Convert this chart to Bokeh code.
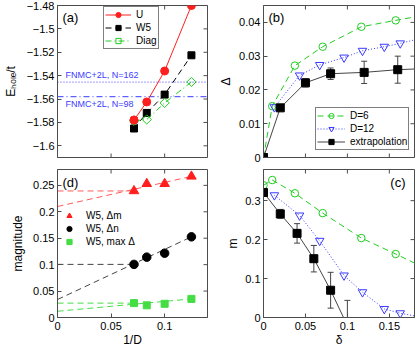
import math
from bokeh.plotting import figure
from bokeh.layouts import gridplot
from bokeh.models import (Range1d, FixedTicker, Label, Legend,
                          LegendItem, CustomJSTickFormatter)
from bokeh.embed import file_html
from bokeh.resources import INLINE

FONT = "Liberation Sans"
FRAME = "#4d4d4d"
RED = "#ff1f1f"
GREEN = "#22cc22"
BLUE = "#3b3bff"
LRED = "#ff5a5a"
LGREEN = "#44dd44"
GRAYK = "#444444"

# ---------------- data ----------------
# panel (a): hole energy vs 1/D
inv_D = [0.0714, 0.0833, 0.1, 0.125]
a_U = [-1.578, -1.5625, -1.536, -1.480]
a_W5 = [-1.5852, -1.5719, -1.5562, -1.5226]
a_Diag = [-1.5787, -1.5775, -1.5633, -1.5454]
fnmc_162 = -1.5455
fnmc_98 = -1.558

# panel (b)/(c): doping dependence
x_D6 = [0.0, 0.0104, 0.0374, 0.0706, 0.1166, 0.1576, 0.2]
b_D6 = [0.0, 0.0152, 0.0272, 0.0328, 0.0387, 0.0406, 0.0425]
c_D6 = [0.3396, 0.353, 0.319, 0.268, 0.204, 0.163, 0.119]

x_D12 = [0.013, 0.043, 0.067, 0.096, 0.118, 0.144, 0.163, 0.19]
b_D12 = [0.0149, 0.0243, 0.0274, 0.0296, 0.0316, 0.0328, 0.0338, 0.0354]
c_D12 = [0.314, 0.262, 0.197, 0.108, 0.065, 0.022, 0.011, 0.0]

b_x_ex = [0.0, 0.02, 0.05, 0.08, 0.12, 0.16, 0.2]
b_y_ex = [0.0, 0.0147, 0.0221, 0.0248, 0.0252, 0.0260, 0.0264]
b_e_ex = [0.0, 0.0006, 0.0012, 0.0017, 0.0033, 0.0040, 0.0040]

c_x_ex = [0.0, 0.02, 0.04, 0.06, 0.08, 0.1]
c_y_ex = [0.321, 0.266, 0.216, 0.151, 0.070, -0.021]
c_e_ex = [0.0, 0.0115, 0.025, 0.034, 0.046, 0.065]

# panel (d): magnitudes vs 1/D
d_dm = [0.2394, 0.253, 0.253, 0.267]
d_dn = [0.1005, 0.1142, 0.1217, 0.1526]
d_dmax = [0.0272, 0.0230, 0.0259, 0.0352]
fit_x = [0.0, 0.125]
fit_dm = [0.210, 0.267]
fit_dn = [0.034, 0.1526]
fit_dmax = [0.0118, 0.0352]

# ticks
a_xticks = [0, 0.05, 0.1]
a_yticks = [-1.6, -1.58, -1.56, -1.54, -1.52, -1.5, -1.48]
a_ylabels = ["\u22121.6", "\u22121.58", "\u22121.56", "\u22121.54", "\u22121.52", "\u22121.5", "\u22121.48"]
d_xlabels = ["0", "0.05", "0.1"]
d_yticks = [0, 0.05, 0.1, 0.15, 0.2, 0.25]
d_ylabels = ["0", "0.05", "0.1", "0.15", "0.2", "0.25"]
bc_xticks = [0, 0.05, 0.1, 0.15]
bc_xlabels = ["0", "0.05", "0.1", "0.15"]
b_yticks = [0, 0.01, 0.02, 0.03, 0.04]
b_ylabels = ["0", "0.01", "0.02", "0.03", "0.04"]
c_yticks = [0, 0.1, 0.2, 0.3]
c_ylabels = ["0", "0.1", "0.2", "0.3"]


def fmt(ticks, labels):
    return CustomJSTickFormatter(args=dict(tv=list(ticks), tl=list(labels)), code="""
        for (let i = 0; i < tv.length; i++) {
            if (Math.abs(tv[i] - tick) < 1e-9) { return tl[i]; }
        }
        return "";
    """)


def style_axis(ax, ticks, labels, standoff):
    ax.ticker = FixedTicker(ticks=ticks)
    ax.formatter = fmt(ticks, labels)
    ax.major_tick_in = 4
    ax.major_tick_out = 0
    ax.minor_tick_line_color = None
    ax.axis_line_color = FRAME
    ax.major_tick_line_color = FRAME
    ax.major_label_text_font = FONT
    ax.major_label_text_color = "black"
    ax.major_label_text_font_size = "11px"
    ax.major_label_standoff = standoff
    ax.axis_label_text_font = FONT
    ax.axis_label_text_font_size = "12px"
    ax.axis_label_text_font_style = "normal"
    ax.axis_label_text_color = "black"


def make_fig(w, h, left, right, top, bottom, xr, yr, xt, xl, yt, yl,
             ylabel, ylabel_standoff, xlabel=None):
    p = figure(width=w, height=h, min_border_left=left, min_border_right=right,
               min_border_top=top, min_border_bottom=bottom,
               x_range=Range1d(*xr), y_range=Range1d(*yr),
               output_backend="svg", toolbar_location=None, tools="")
    p.grid.visible = False
    p.outline_line_color = FRAME
    p.background_fill_color = "white"
    p.border_fill_color = "white"
    style_axis(p.yaxis[0], yt, yl, 3)
    p.yaxis[0].axis_label = ylabel
    p.yaxis[0].axis_label_standoff = ylabel_standoff
    if xl is None:
        p.xaxis.visible = False
        # inward tick marks on the bottom edge (outer half is clipped)
        p.scatter(xt, [yr[0]] * len(xt), marker="dash", angle=math.pi / 2, size=8,
                  line_color=FRAME, line_width=1)
    else:
        xa = p.xaxis[0]
        style_axis(xa, xt, xl, 4)
        xa.major_label_text_line_height = 0.8
        xa.axis_label = xlabel
        xa.axis_label_text_line_height = 0.8
        xa.axis_label_standoff = 0
    # mirrored inward ticks on the top and right edges
    p.scatter(xt, [yr[1]] * len(xt), marker="dash", angle=math.pi / 2, size=8,
              line_color=FRAME, line_width=1)
    p.scatter([xr[1]] * len(yt), yt, marker="dash", size=8,
              line_color=FRAME, line_width=1)
    return p


def panel_label(p, x, y, xo, yo, text, align="left"):
    p.add_layout(Label(x=x, y=y, x_offset=xo, y_offset=yo, text=text, text_font=FONT,
                       text_font_size="13px", text_baseline="top", text_align=align,
                       text_color="black"))


def legend(p, items, loc, glyph_w, standoff, boxed=True):
    lg = Legend(items=items, location=loc, glyph_width=glyph_w, glyph_height=13,
                label_height=13, spacing=0, padding=1, margin=0,
                label_standoff=standoff, label_text_font=FONT,
                label_text_font_size="10px", label_text_color="black",
                label_text_line_height=1.0)
    if boxed:
        lg.border_line_color = "black"
        lg.border_line_width = 1
        lg.background_fill_color = "white"
        lg.background_fill_alpha = 1
    else:
        lg.border_line_alpha = 0
        lg.background_fill_alpha = 0
    p.add_layout(lg)
    return lg


# ---------------- panel (a) ----------------
fa = make_fig(215, 164, 55, 8, 5, 7, (0, 0.14), (-1.61, -1.48),
              a_xticks, None, a_yticks, a_ylabels,
              "E\u2095\u2092\u2097\u2091/t", 6)
fa.line([0, 0.14], [fnmc_162, fnmc_162], line_color=BLUE, line_width=1, line_dash="1 2")
fa.line([0, 0.14], [fnmc_98, fnmc_98], line_color=BLUE, line_width=1, line_dash="6 3 1 3")
fa.add_layout(Label(x=0.0074, y=fnmc_162, y_offset=2, text="FNMC+2L, N=162", text_font=FONT,
                    text_font_size="9px", text_color=BLUE, text_baseline="bottom"))
fa.add_layout(Label(x=0.0074, y=fnmc_98, y_offset=-2, text="FNMC+2L, N=98", text_font=FONT,
                    text_font_size="9px", text_color=BLUE, text_baseline="top"))
lu = fa.line(inv_D, a_U, line_color=RED, line_width=1)
su = fa.scatter(inv_D, a_U, marker="circle", size=8, fill_color=RED, line_color=RED)
lw = fa.line(inv_D, a_W5, line_color="black", line_width=1, line_dash="6 4")
sw = fa.scatter(inv_D, a_W5, marker="square", size=7, fill_color="black", line_color="black")
ld = fa.line(inv_D, a_Diag, line_color=GREEN, line_width=1, line_dash="6 3 1 3")
sd = fa.scatter(inv_D, a_Diag, marker="square", angle=math.pi / 4, size=6.5,
                fill_color=None, line_color=GREEN, line_width=1)
fa.scatter(inv_D[:1], a_U[:1], marker="circle", size=8, fill_color=RED, line_color=RED)
legend(fa, [LegendItem(label="U", renderers=[lu, su]),
            LegendItem(label="W5", renderers=[lw, sw]),
            LegendItem(label="Diag", renderers=[ld, sd])], (46, 108), 26, 5)
panel_label(fa, 0, -1.48, 5, -4, "(a)")

# ---------------- panel (b) ----------------
fb = make_fig(200, 164, 48, 1, 5, 7, (0, 0.18), (0, 0.045),
              bc_xticks, None, b_yticks, b_ylabels, "\u0394", 3)
l6 = fb.line(x_D6, b_D6, line_color=GREEN, line_width=1, line_dash="6 4")
s6 = fb.scatter(x_D6, b_D6, marker="circle", size=7.5, fill_color=None, line_color=GREEN)
l12 = fb.line(x_D12, b_D12, line_color=BLUE, line_width=1, line_dash="1 2")
s12 = fb.scatter(x_D12, b_D12, marker="inverted_triangle", size=8.5, fill_color=None, line_color=BLUE)
b_lo = [y - e for y, e in zip(b_y_ex, b_e_ex)]
b_hi = [y + e for y, e in zip(b_y_ex, b_e_ex)]
fb.segment(b_x_ex, b_lo, b_x_ex, b_hi, line_color=GRAYK, line_width=1)
fb.scatter(b_x_ex, b_lo, marker="dash", size=6, line_color=GRAYK)
fb.scatter(b_x_ex, b_hi, marker="dash", size=6, line_color=GRAYK)
lex = fb.line(b_x_ex, b_y_ex, line_color=GRAYK, line_width=1)
sex = fb.scatter(b_x_ex, b_y_ex, marker="square", size=8, fill_color="black", line_color="black")
legend(fb, [LegendItem(label="D=6", renderers=[l6, s6]),
            LegendItem(label="D=12", renderers=[l12, s12]),
            LegendItem(label="extrapolation", renderers=[lex, sex])], (52, 7), 28, 5)
panel_label(fb, 0, 0.045, 5, -4, "(b)")

# ---------------- panel (d) ----------------
fd = make_fig(215, 185, 55, 8, 5, 28, (0, 0.14), (0, 0.28),
              a_xticks, d_xlabels, d_yticks, d_ylabels, "magnitude", 5, xlabel="1/D")
fd.line([0, inv_D[0]], [d_dm[0], d_dm[0]], line_color=LRED, line_width=1, line_dash="6 4")
fd.line(fit_x, fit_dm, line_color=LRED, line_width=1, line_dash="6 4")
fd.line([0, inv_D[0]], [d_dn[0], d_dn[0]], line_color=GRAYK, line_width=1, line_dash="6 4")
fd.line(fit_x, fit_dn, line_color=GRAYK, line_width=1, line_dash="6 4")
fd.line([0, inv_D[0]], [d_dmax[0], d_dmax[0]], line_color=LGREEN, line_width=1, line_dash="6 4")
fd.line(fit_x, fit_dmax, line_color=LGREEN, line_width=1, line_dash="6 4")
tm = fd.scatter(inv_D, d_dm, marker="triangle", size=9.5, fill_color=RED, line_color=RED)
cn = fd.scatter(inv_D, d_dn, marker="circle", size=8.5, fill_color="black", line_color="black")
qm = fd.scatter(inv_D, d_dmax, marker="square", size=7, fill_color=LGREEN, line_color=LGREEN)
legend(fd, [LegendItem(label="W5, \u0394m", renderers=[tm]),
            LegendItem(label="W5, \u0394n", renderers=[cn]),
            LegendItem(label="W5, max \u0394", renderers=[qm])], (1, 68), 20, 7, boxed=False)
panel_label(fd, 0, 0.28, 5, -5, "(d)")

# ---------------- panel (c) ----------------
fc = make_fig(200, 185, 48, 1, 5, 28, (0, 0.18), (0, 0.38),
              bc_xticks, bc_xlabels, c_yticks, c_ylabels, "m", 2, xlabel="\u03b4")
fc.line(x_D6, c_D6, line_color=GREEN, line_width=1, line_dash="6 4")
fc.scatter(x_D6, c_D6, marker="circle", size=7.5, fill_color=None, line_color=GREEN)
fc.line(x_D12, c_D12, line_color=BLUE, line_width=1, line_dash="1 2")
fc.scatter(x_D12, c_D12, marker="inverted_triangle", size=8.5, fill_color=None, line_color=BLUE)
c_lo = [y - e for y, e in zip(c_y_ex, c_e_ex)]
c_hi = [y + e for y, e in zip(c_y_ex, c_e_ex)]
fc.segment(c_x_ex, c_lo, c_x_ex, c_hi, line_color=GRAYK, line_width=1)
fc.scatter(c_x_ex, c_lo, marker="dash", size=6, line_color=GRAYK)
fc.scatter(c_x_ex, c_hi, marker="dash", size=6, line_color=GRAYK)
fc.line(c_x_ex, c_y_ex, line_color=GRAYK, line_width=1)
fc.scatter(c_x_ex, c_y_ex, marker="square", size=8, fill_color="black", line_color="black")
panel_label(fc, 0.18, 0.38, -9, -5, "(c)", align="right")

grid = gridplot([[fa, fb], [fd, fc]], toolbar_location=None)
open("out.html", "w").write(file_html(grid, INLINE))
